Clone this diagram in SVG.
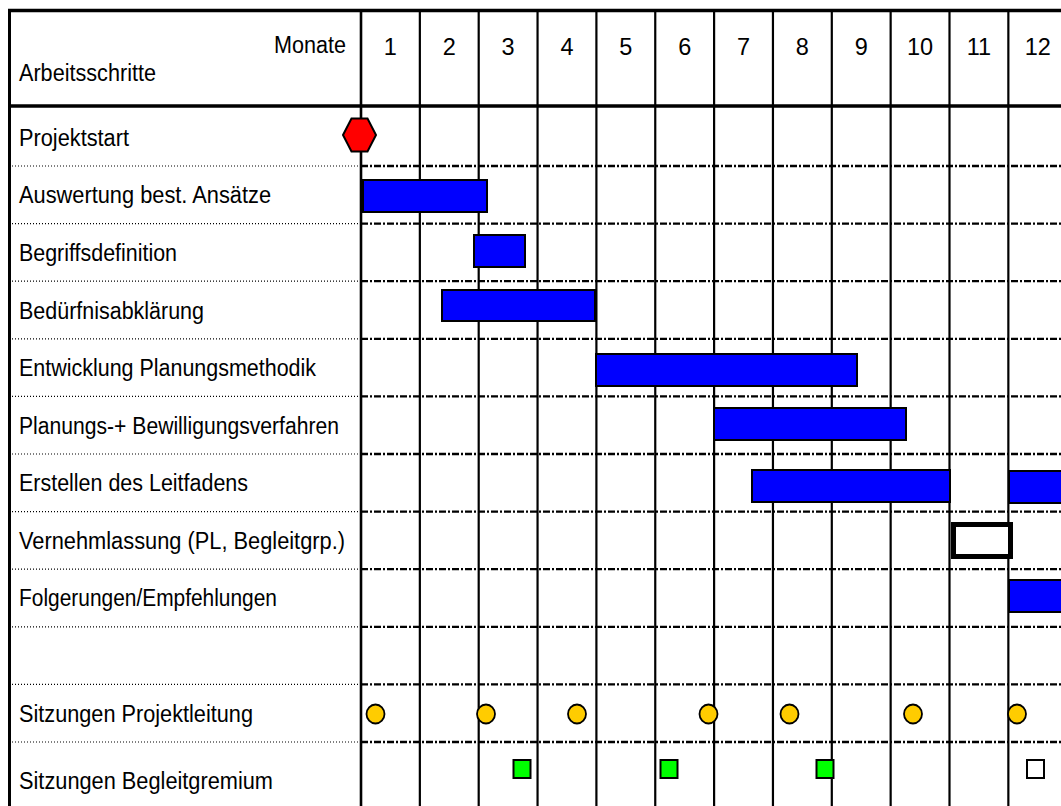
<svg xmlns="http://www.w3.org/2000/svg" width="1061" height="806" viewBox="0 0 1061 806">
<style>
text{font-family:"Liberation Sans",Arial,sans-serif;font-size:23.5px;fill:#000}
.num{text-anchor:middle}
.vl{stroke:#000;stroke-width:2.2;fill:none}
.dotl{stroke:#000;stroke-width:1.2;stroke-dasharray:1 2;fill:none}
.dashl{stroke:#000;stroke-width:2.3;stroke-dasharray:7 2 2 2;fill:none}
.bar{fill:#0000FF;stroke:#000;stroke-width:2}
.pl{fill:#FFCC00;stroke:#000;stroke-width:1.8}
.bg{fill:#00FF00;stroke:#000;stroke-width:2}
</style>
<rect x="0" y="0" width="1061" height="806" fill="#fff"/>
<g id="grid">
  <g id="row-lines">
    <line class="dotl" x1="12" y1="166" x2="360" y2="166"/><line class="dashl" x1="361" y1="166" x2="1061" y2="166"/>
    <line class="dotl" x1="12" y1="223.6" x2="360" y2="223.6"/><line class="dashl" x1="361" y1="223.6" x2="1061" y2="223.6"/>
    <line class="dotl" x1="12" y1="281.2" x2="360" y2="281.2"/><line class="dashl" x1="361" y1="281.2" x2="1061" y2="281.2"/>
    <line class="dotl" x1="12" y1="338.8" x2="360" y2="338.8"/><line class="dashl" x1="361" y1="338.8" x2="1061" y2="338.8"/>
    <line class="dotl" x1="12" y1="396.4" x2="360" y2="396.4"/><line class="dashl" x1="361" y1="396.4" x2="1061" y2="396.4"/>
    <line class="dotl" x1="12" y1="454" x2="360" y2="454"/><line class="dashl" x1="361" y1="454" x2="1061" y2="454"/>
    <line class="dotl" x1="12" y1="511.6" x2="360" y2="511.6"/><line class="dashl" x1="361" y1="511.6" x2="1061" y2="511.6"/>
    <line class="dotl" x1="12" y1="569.2" x2="360" y2="569.2"/><line class="dashl" x1="361" y1="569.2" x2="1061" y2="569.2"/>
    <line class="dotl" x1="12" y1="626.8" x2="360" y2="626.8"/><line class="dashl" x1="361" y1="626.8" x2="1061" y2="626.8"/>
    <line class="dotl" x1="12" y1="684.4" x2="360" y2="684.4"/><line class="dashl" x1="361" y1="684.4" x2="1061" y2="684.4"/>
    <line class="dotl" x1="12" y1="742" x2="360" y2="742"/><line class="dashl" x1="361" y1="742" x2="1061" y2="742"/>
  </g>
  <g id="col-lines">
    <line class="vl" x1="419.85" y1="10" x2="419.85" y2="806"/>
    <line class="vl" x1="478.7" y1="10" x2="478.7" y2="806"/>
    <line class="vl" x1="537.55" y1="10" x2="537.55" y2="806"/>
    <line class="vl" x1="596.4" y1="10" x2="596.4" y2="806"/>
    <line class="vl" x1="655.25" y1="10" x2="655.25" y2="806"/>
    <line class="vl" x1="714.1" y1="10" x2="714.1" y2="806"/>
    <line class="vl" x1="772.95" y1="10" x2="772.95" y2="806"/>
    <line class="vl" x1="831.8" y1="10" x2="831.8" y2="806"/>
    <line class="vl" x1="890.65" y1="10" x2="890.65" y2="806"/>
    <line class="vl" x1="949.5" y1="10" x2="949.5" y2="806"/>
    <line class="vl" x1="1008.35" y1="10" x2="1008.35" y2="806"/>
    <line x1="361" y1="10" x2="361" y2="806" stroke="#000" stroke-width="2.6"/>
    <line x1="9.5" y1="9" x2="9.5" y2="806" stroke="#000" stroke-width="3"/>
  </g>
  <line x1="8" y1="10.5" x2="1061" y2="10.5" stroke="#000" stroke-width="3.4"/>
  <line x1="8" y1="106" x2="1061" y2="106" stroke="#000" stroke-width="3.6"/>
</g>
<g id="header">
  <text x="274" y="53" textLength="72" lengthAdjust="spacingAndGlyphs">Monate</text>
  <text x="19" y="81" textLength="137" lengthAdjust="spacingAndGlyphs">Arbeitsschritte</text>
  <text class="num" x="390.4" y="55">1</text>
  <text class="num" x="449.3" y="55">2</text>
  <text class="num" x="508.1" y="55">3</text>
  <text class="num" x="567" y="55">4</text>
  <text class="num" x="625.8" y="55">5</text>
  <text class="num" x="684.7" y="55">6</text>
  <text class="num" x="743.5" y="55">7</text>
  <text class="num" x="802.4" y="55">8</text>
  <text class="num" x="861.2" y="55">9</text>
  <text class="num" x="920.1" y="55">10</text>
  <text class="num" x="978.9" y="55">11</text>
  <text class="num" x="1037.8" y="55">12</text>
</g>
<g id="projektstart">
  <text x="19" y="146" textLength="110" lengthAdjust="spacingAndGlyphs">Projektstart</text>
  <polygon points="343,135 351.5,118.5 367.5,118.5 376,135 367.5,151.5 351.5,151.5" fill="#FF0000" stroke="#000" stroke-width="2"/>
</g>
<g id="auswertung">
  <text x="19" y="203" textLength="252" lengthAdjust="spacingAndGlyphs">Auswertung best. Ansätze</text>
  <rect class="bar" x="363" y="180" width="124" height="32"/>
</g>
<g id="begriffsdefinition">
  <text x="19" y="261" textLength="158" lengthAdjust="spacingAndGlyphs">Begriffsdefinition</text>
  <rect class="bar" x="474" y="235" width="51" height="32"/>
</g>
<g id="beduerfnisabklaerung">
  <text x="19" y="318.5" textLength="185" lengthAdjust="spacingAndGlyphs">Bedürfnisabklärung</text>
  <rect class="bar" x="442" y="290" width="153" height="31"/>
</g>
<g id="entwicklung">
  <text x="19" y="376" textLength="297" lengthAdjust="spacingAndGlyphs">Entwicklung Planungsmethodik</text>
  <rect class="bar" x="596" y="354" width="261" height="32"/>
</g>
<g id="planungsverfahren">
  <text x="19" y="433.5" textLength="320" lengthAdjust="spacingAndGlyphs">Planungs-+ Bewilligungsverfahren</text>
  <rect class="bar" x="714" y="408" width="192" height="32"/>
</g>
<g id="leitfaden">
  <text x="19" y="491" textLength="229" lengthAdjust="spacingAndGlyphs">Erstellen des Leitfadens</text>
  <rect class="bar" x="752" y="470" width="198" height="32"/>
  <rect class="bar" x="1009" y="471" width="60" height="32"/>
</g>
<g id="vernehmlassung">
  <text x="19" y="548.5" textLength="326" lengthAdjust="spacingAndGlyphs">Vernehmlassung (PL, Begleitgrp.)</text>
  <rect x="953.5" y="524.5" width="57" height="32" fill="#fff" stroke="#000" stroke-width="5"/>
</g>
<g id="folgerungen">
  <text x="19" y="606" textLength="258" lengthAdjust="spacingAndGlyphs">Folgerungen/Empfehlungen</text>
  <rect class="bar" x="1009" y="580" width="60" height="32"/>
</g>
<g id="sitzungen-projektleitung">
  <text x="19" y="722" textLength="234" lengthAdjust="spacingAndGlyphs">Sitzungen Projektleitung</text>
  <ellipse class="pl" cx="375.5" cy="714" rx="9" ry="9.5"/>
  <ellipse class="pl" cx="486" cy="714" rx="9" ry="9.5"/>
  <ellipse class="pl" cx="577" cy="714" rx="9" ry="9.5"/>
  <ellipse class="pl" cx="708.5" cy="714" rx="9" ry="9.5"/>
  <ellipse class="pl" cx="789.5" cy="714" rx="9" ry="9.5"/>
  <ellipse class="pl" cx="913" cy="714" rx="9" ry="9.5"/>
  <ellipse class="pl" cx="1017" cy="714" rx="9" ry="9.5"/>
</g>
<g id="sitzungen-begleitgremium">
  <text x="19" y="789" textLength="254" lengthAdjust="spacingAndGlyphs">Sitzungen Begleitgremium</text>
  <rect class="bg" x="513.5" y="760" width="17" height="18"/>
  <rect class="bg" x="660.5" y="760" width="17" height="18"/>
  <rect class="bg" x="816.5" y="760" width="17" height="18"/>
  <rect x="1027" y="760" width="17" height="18" fill="#fff" stroke="#000" stroke-width="2"/>
</g>
</svg>
